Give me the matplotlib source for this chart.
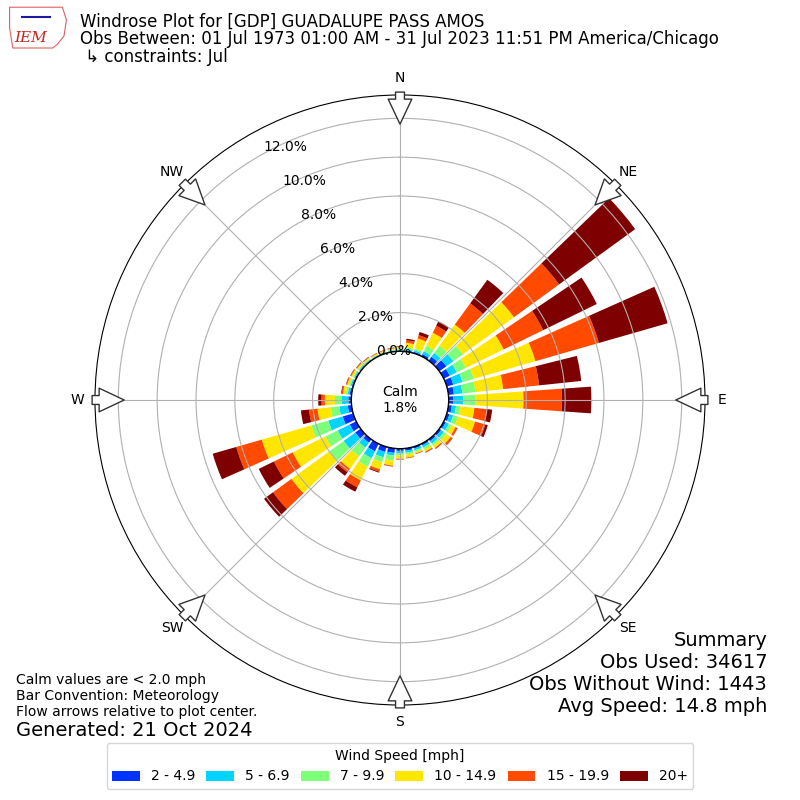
import numpy as np
import matplotlib
matplotlib.use("Agg")
import matplotlib.pyplot as plt
from matplotlib.patches import Patch, Polygon

# direction bins (deg, meteorological, from north clockwise)
directions = list(range(0, 360, 10))

# percent of obs per speed bin for each direction
spd_2_5 = [0.05, 0.07, 0.08, 0.13, 0.25, 0.45, 0.35, 0.35, 0.29, 0.25, 0.18, 0.15,
           0.12, 0.12, 0.12, 0.10, 0.10, 0.12, 0.12, 0.24, 0.28, 0.44, 0.22, 0.35,
           0.38, 0.57, 0.20, 0.16, 0.10, 0.08, 0.07, 0.06, 0.05, 0.04, 0.04, 0.04]
spd_5_7 = [0.05, 0.08, 0.08, 0.17, 0.25, 0.45, 0.40, 0.50, 0.44, 0.51, 0.22, 0.20,
           0.18, 0.18, 0.16, 0.12, 0.10, 0.11, 0.13, 0.14, 0.29, 0.39, 0.31, 0.74,
           0.69, 0.77, 0.44, 0.34, 0.10, 0.07, 0.06, 0.05, 0.05, 0.04, 0.04, 0.04]
spd_7_10 = [0.05, 0.07, 0.10, 0.30, 0.45, 0.60, 0.52, 0.60, 0.67, 0.61, 0.22, 0.25,
            0.15, 0.15, 0.12, 0.11, 0.08, 0.09, 0.10, 0.26, 0.26, 0.48, 0.56, 0.90,
            0.70, 0.91, 0.44, 0.35, 0.10, 0.07, 0.06, 0.05, 0.04, 0.03, 0.03, 0.04]
spd_10_15 = [0.08, 0.24, 0.53, 0.75, 1.35, 3.25, 2.17, 3.30, 1.44, 2.49, 0.73, 0.92,
             0.23, 0.27, 0.15, 0.13, 0.08, 0.16, 0.18, 0.26, 0.38, 0.79, 0.79, 2.42,
             1.88, 2.65, 0.69, 0.52, 0.15, 0.11, 0.10, 0.08, 0.06, 0.05, 0.05, 0.05]
spd_15_20 = [0.03, 0.13, 0.18, 0.40, 1.35, 2.87, 2.26, 3.40, 1.86, 1.98, 0.65, 0.55,
             0.10, 0.11, 0.05, 0.04, 0.03, 0.03, 0.03, 0.04, 0.13, 0.40, 0.22, 1.17,
             1.07, 1.37, 0.44, 0.17, 0.07, 0.05, 0.04, 0.04, 0.03, 0.03, 0.03, 0.03]
spd_20p = [0.02, 0.08, 0.17, 0.25, 1.50, 4.84, 3.07, 3.68, 2.18, 1.51, 0.27, 0.13,
           0.02, 0.02, 0.02, 0.02, 0.01, 0.01, 0.01, 0.01, 0.05, 0.25, 0.22, 0.57,
           0.87, 1.26, 0.42, 0.17, 0.03, 0.02, 0.02, 0.02, 0.02, 0.01, 0.01, 0.02]

speed_labels = ["2 - 4.9", "5 - 6.9", "7 - 9.9", "10 - 14.9", "15 - 19.9", "20+"]
colors = ["#0033ff", "#00d4ff", "#7dff7a", "#ffe600", "#ff4a00", "#7f0000"]

calm_pct = 1.8
rticks = [0, 2, 4, 6, 8, 10, 12]
compass = ["N", "NE", "E", "SE", "S", "SW", "W", "NW"]

fig = plt.figure(figsize=(8, 8), dpi=100)
ax = fig.add_axes([0.11875, 0.11875, 0.7625, 0.7625], projection="polar")
ax.set_theta_zero_location("N")
ax.set_theta_direction(-1)

theta = np.deg2rad(directions)
width = np.deg2rad(8)
bottom = np.zeros(len(directions))
for vals, col in zip([spd_2_5, spd_5_7, spd_7_10, spd_10_15, spd_15_20, spd_20p], colors):
    # bars under the grid, like the original
    ax.bar(theta, vals, width=width, bottom=bottom, color=col, linewidth=0, zorder=1)
    bottom = bottom + np.array(vals)

ax.set_ylim(0, 13.2)
ax.set_rorigin(-2.5)
ax.set_rticks(rticks)
ax.set_yticklabels([f"{t:.1f}%" for t in rticks], fontsize=10)
ax.set_rlabel_position(331)
ax.set_xticks(np.deg2rad(np.arange(0, 360, 45)))
ax.set_xticklabels(compass, fontsize=10)
ax.tick_params(axis="x", pad=2)
ax.grid(True, color="#b0b0b0", linewidth=0.8)

# calm circle
tt = np.linspace(0, 2 * np.pi, 361)
ax.plot(tt, np.zeros_like(tt), color="black", linewidth=1.2, zorder=3)
ax.text(0, -2.5, f"Calm\n{calm_pct}%", ha="center", va="center", fontsize=10, zorder=4)

# hollow flow arrows pointing to the center
for ang in np.arange(0, 360, 45):
    a = np.deg2rad(ang)
    ax.annotate("", xy=(a, 11.7), xytext=(a, 13.35), xycoords="data",
                arrowprops=dict(arrowstyle="simple,head_length=0.9,head_width=0.85,tail_width=0.32",
                                fc="white", ec="#333333", lw=1, mutation_scale=20,
                                shrinkA=0, shrinkB=0),
                annotation_clip=False, zorder=5)

# header
fig.text(0.1, 1 - 26.7 / 800, "Windrose Plot for [GDP] GUADALUPE PASS AMOS", fontsize=12, va="baseline")
fig.text(0.1, 1 - 44.0 / 800,
         "Obs Between: 01 Jul 1973 01:00 AM - 31 Jul 2023 11:51 PM America/Chicago",
         fontsize=12, va="baseline")
fig.text(0.1, 1 - 61.5 / 800, " \u21b3 constraints: Jul", fontsize=12, va="baseline")

# IEM logo (rough)
iowa = Polygon([[0.012, 0.991], [0.078, 0.991], [0.083, 0.975], [0.080, 0.955],
                [0.072, 0.945], [0.066, 0.940], [0.016, 0.940], [0.012, 0.965]],
               closed=True, fill=False, ec="#e06060", lw=0.8, transform=fig.transFigure)
fig.add_artist(iowa)
fig.text(0.038, 0.948, "IEM", fontsize=11, color="#cc2222", family="DejaVu Serif",
         style="italic", ha="center", va="baseline")
fig.add_artist(plt.Line2D([0.028, 0.062], [0.979, 0.979], color="#1a1aa0", lw=1.5,
                          transform=fig.transFigure))

# footer notes
fig.text(0.02, 1 - 684 / 800, "Calm values are < 2.0 mph", fontsize=10, va="baseline")
fig.text(0.02, 1 - 700 / 800, "Bar Convention: Meteorology", fontsize=10, va="baseline")
fig.text(0.02, 1 - 716 / 800, "Flow arrows relative to plot center.", fontsize=10, va="baseline")
fig.text(0.02, 1 - 736 / 800, "Generated: 21 Oct 2024", fontsize=14, va="baseline")

summary = ["Summary", "Obs Used: 34617", "Obs Without Wind: 1443", "Avg Speed: 14.8 mph"]
for i, line in enumerate(summary):
    fig.text(0.959, 1 - (646 + 22 * i) / 800, line, fontsize=14, ha="right", va="baseline")

handles = [Patch(facecolor=c, label=l) for c, l in zip(colors, speed_labels)]
fig.legend(handles=handles, loc="lower center", bbox_to_anchor=(0.5, 0.005), ncol=6,
           title="Wind Speed [mph]", fontsize=10, title_fontsize=10,
           handlelength=2.0, handletextpad=0.8, columnspacing=0.8)

fig.savefig("out.png", dpi=100)
